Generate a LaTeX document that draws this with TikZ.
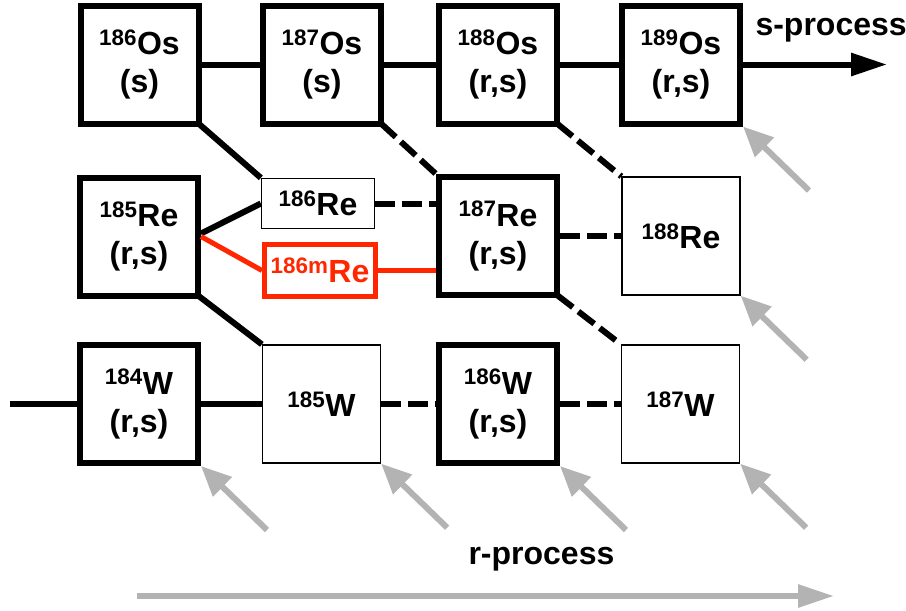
\documentclass[tikz,border=0pt]{standalone}
\usepackage{fontspec}
\setmainfont{Liberation Sans}
\usepackage{tikz}
\usetikzlibrary{arrows.meta}
\definecolor{isored}{RGB}{255,38,0}
\definecolor{procgray}{RGB}{179,179,179}

\begin{document}
\begin{tikzpicture}
	[
		x = 1pt, y = -1pt,
		every node/.style = {font = \fontsize{32}{38}\selectfont\bfseries},
		stable/.style = {draw, line width = 6pt, minimum size = 118pt, align = center},
		unstable/.style = {draw, line width = 1.3pt, minimum size = 118pt},
		flow/.style = {line width = 6pt},
		decay/.style = {line width = 6pt, dash pattern = on 20pt off 7pt},
		feed/.style = {procgray, line width = 6pt, -{Triangle[length = 30pt, width = 26pt]}}
	]
	\useasboundingbox (0,0) rectangle (906,611);

	% osmium row
	\node[stable] (os186) at (139.5,64.5) {\textsuperscript{186}Os\\(s)};
	\node[stable] (os187) at (322,64.5) {\textsuperscript{187}Os\\(s)};
	\node[stable] (os188) at (498,64.5) {\textsuperscript{188}Os\\(r,s)};
	\node[stable] (os189) at (681,64.5) {\textsuperscript{189}Os\\(r,s)};

	% rhenium row
	\node[stable] (re185) at (139,236.5) {\textsuperscript{185}Re\\(r,s)};
	\node[unstable, minimum width = 113pt, minimum height = 50pt] (re186) at (318,203.5) {\textsuperscript{186}Re};
	\node[draw = isored, text = isored, line width = 5pt, minimum width = 111pt, minimum height = 52pt, inner xsep = 1pt] (re186m) at (320,270.5) {\textsuperscript{186m}Re};
	\node[stable] (re187) at (498,236) {\textsuperscript{187}Re\\(r,s)};
	\node[unstable] (re188) at (681,236) {\textsuperscript{188}Re};

	% tungsten row
	\node[stable] (w184) at (139,404) {\textsuperscript{184}W\\(r,s)};
	\node[unstable] (w185) at (321.5,404) {\textsuperscript{185}W};
	\node[stable] (w186) at (498,404) {\textsuperscript{186}W\\(r,s)};
	\node[unstable] (w187) at (680.5,404) {\textsuperscript{187}W};

	\node[anchor = base west] (slabel) at (752,35) {s-process};
	\node[anchor = base west] (rlabel) at (465,564) {r-process};

	\coordinate (send) at (887,64.5);
	\coordinate (wstart) at (10,404);
	\coordinate (rstart) at (137,596);
	\coordinate (rend) at (834,596);

	% s-process path
	\draw[flow] (os186) -- (os187);
	\draw[flow] (os187) -- (os188);
	\draw[flow] (os188) -- (os189);
	\draw[flow, -{Triangle[length = 36pt, width = 22pt]}] (os189) -- (send);
	\draw[flow] ([shift = {(-3,-3)}]os186.south east) -- (re186.north west);
	\draw[flow] ([yshift = 3pt]re185.east) -- (re186.west);
	\draw[isored, line width = 5pt] (re185.east) -- (re186m.west);
	\draw[flow] ([shift = {(-3,-3)}]re185.south east) -- (w185.north west);
	\draw[flow] (wstart) -- (w184);
	\draw[flow] (w184) -- (w185);
	\draw[isored, line width = 5pt] (re186m.east) -- (re186m.east -| re187.west);

	% branches
	\draw[decay] (re186.east) -- (re186.east -| re187.west);
	\draw[decay] ([shift = {(-3,-3)}]os187.south east) -- (re187.north west);
	\draw[decay] ([shift = {(-3,-3)}]os188.south east) -- (re188.north west);
	\draw[decay] (re187) -- (re188);
	\draw[decay] ([shift = {(-3,-3)}]re187.south east) -- (w187.north west);
	\draw[decay] (w185) -- (w186);
	\draw[decay] (w186) -- (w187);

	% r-process feeding
	\foreach \n in {os189, re188, w184, w185, w186, w187}
	{
		\coordinate (\n-r) at ([shift = {(66,64)}]\n.south east);
		\draw[feed] (\n-r) -- (\n.south east);
	}
	\draw[procgray, line width = 6pt, -{Triangle[length = 36pt, width = 22pt]}] (rstart) -- (rend);
\end{tikzpicture}
\end{document}
